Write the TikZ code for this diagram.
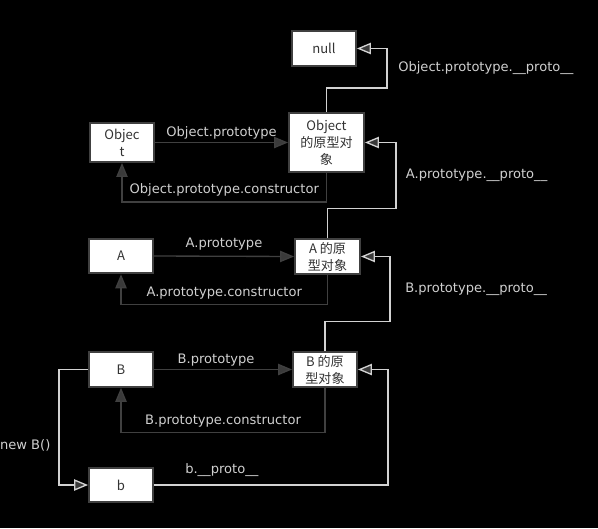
\documentclass[tikz,border=0pt]{standalone}
\usepackage{fontspec}
\setmainfont{DejaVu Sans}
\newfontfamily\cjkfont{Noto Sans CJK SC}
\usetikzlibrary{arrows.meta,calc,positioning}
\definecolor{darkline}{HTML}{404040}
\definecolor{lightline}{HTML}{D2D2D2}
\definecolor{labelgray}{HTML}{D0D0D0}
\definecolor{boxtext}{HTML}{333333}
\definecolor{tipfill}{HTML}{3A3A3A}

\begin{document}
\begin{tikzpicture}[
    x=0.75pt, y=-0.75pt,
    box/.style={rectangle, draw=darkline, line width=1.4pt, fill=white, text=boxtext, minimum width=48pt, minimum height=26pt, inner sep=1pt, align=center, font=\cjkfont\fontsize{9.8}{12.75}\selectfont},
    lbl/.style={text=labelgray, font=\fontsize{9.8}{11}\selectfont, inner sep=1pt},
    link/.style={-{Triangle[length=10.5pt,width=8.5pt,fill=tipfill]}, draw=darkline, line width=1pt},
    proto/.style={link, draw=lightline}
]
    \useasboundingbox (0,0) rectangle (598,528);
    \fill[black] (0,0) rectangle (598,528);

    % Object
    \node[box] (nullobj) at (324,48.5) {null};
    \node[box, minimum height=29.25pt] (objfn) at (122,142.5) {Objec\\t};
    \node[box, minimum width=56.25pt, minimum height=44.25pt] (objproto) at (326.5,142.5) {Object\\的原型对\\象};

    % A
    \node[box] (afn) at (121,256) {A};
    \node[box, minimum width=48.75pt] (aproto) at (327.5,256.5) {A 的原\\型对象};

    % B
    \node[box] (bfn) at (121,369.5) {B};
    \node[box] (bproto) at (325,369.5) {B 的原\\型对象};
    \node[box] (binst) at (121,485) {b};

    % prototype / constructor
    \draw[link] (objfn.east) -- node[lbl, above=1pt] {Object.prototype} (objproto.west);
    \draw[link] (objproto.south) -- ++(0,29) -| node[lbl, pos=0.25, above=3pt] {Object.prototype.constructor} (objfn.south);
    \draw[link] (afn.east) -- node[lbl, above=3pt] {A.prototype} (aproto.west);
    \draw[link] (aproto.south) -- ++(0,30) -| node[lbl, pos=0.25, above=3pt] {A.prototype.constructor} (afn.south);
    \draw[link] (bfn.east) -- node[lbl, above=1pt, pos=0.45] {B.prototype} (bproto.west);
    \draw[link] (bproto.south) -- ++(0,45) -| node[lbl, pos=0.25, above=3pt] {B.prototype.constructor} (bfn.south);

    % __proto__ chain
    \draw[proto] (objproto.north) -- ++(0,-24) -| node[lbl, pos=0.75, right=7pt] {Object.prototype.\_\_proto\_\_} ($(nullobj.east)+(30,0)$) -- (nullobj.east);
    \draw[proto] (aproto.north) -- ++(0,-30) -| node[lbl, pos=0.75, right=6pt] {A.prototype.\_\_proto\_\_} ($(objproto.east)+(31,0)$) -- (objproto.east);
    \draw[proto] (bproto.north) -- ++(0,-30) -| node[lbl, pos=0.75, right=10pt] {B.prototype.\_\_proto\_\_} ($(aproto.east)+(29,0)$) -- (aproto.east);

    % b
    \draw[proto] (bfn.west) -- ++(-29,0) |- node[lbl, pos=0.33, left=5pt] {new B()} (binst.west);
    \draw[proto] (binst.east) -- node[lbl, pos=0.29, above=5pt] {b.\_\_proto\_\_} ++(234,0) |- (bproto.east);
\end{tikzpicture}
\end{document}
